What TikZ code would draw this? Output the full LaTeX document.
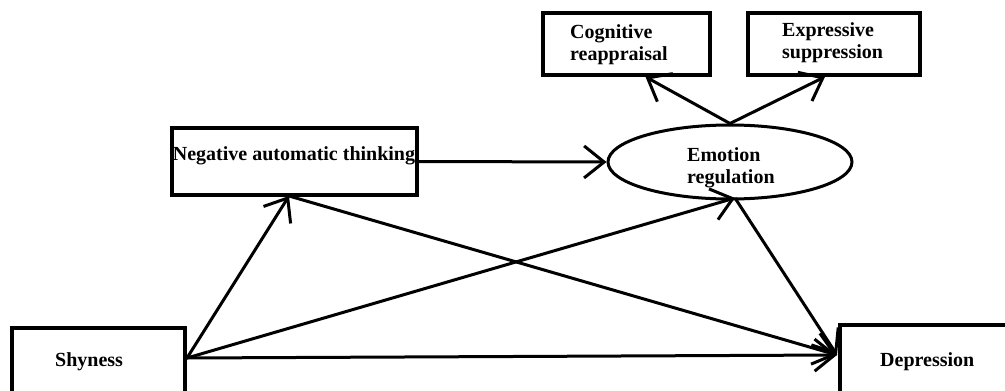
\documentclass[tikz,border=0pt]{standalone}
\usepackage{fontspec}
\setmainfont{Liberation Serif}
\usetikzlibrary{arrows.meta,shapes.geometric,calc}
\tikzset{
  box/.style={draw, line width=3.6pt, inner sep=0pt},
  txt/.style={font=\fontsize{20}{22}\selectfont\bfseries, inner sep=0pt, align=left},
  arr/.style={line width=3pt, -{Straight Barb[length=20pt,width=32pt,line width=3pt]}}
}
\begin{document}
\begin{tikzpicture}[x=1pt,y=-1pt]
\useasboundingbox (0,0) rectangle (1005,391);
\clip (0,0) rectangle (1005,391);
\fill[white] (0,0) rectangle (1005,391);
% boxes
\node[box, minimum width=167pt, minimum height=62pt] (cog) at (626.5,44) {};
\node[box, minimum width=172pt, minimum height=62pt] (exp) at (834,44) {};
\node[box, minimum width=245pt, minimum height=67pt] (nat) at (294.5,161.5) {};
\node[draw, ellipse, line width=3pt, minimum width=244pt, minimum height=74pt, inner sep=0pt] (er) at (730,162) {};
\node[box, minimum width=173pt, minimum height=80pt] (shy) at (98.5,368) {};
\node[box, minimum width=180pt, minimum height=80pt] (dep) at (930,365) {};
% texts
\node[txt, anchor=west] (tcog) at (570,45) {Cognitive\\reappraisal};
\node[txt, anchor=west] (texp) at (782,43) {Expressive\\suppression};
\node[txt] (tnat) at (294,156) {Negative automatic thinking};
\node[txt, anchor=west] (ter) at (687,168) {Emotion\\regulation};
\node[txt, anchor=west] (tshy) at (55,362) {Shyness};
\node[txt, anchor=west] (tdep) at (880,362) {Depression};
% anchor points
\coordinate (shyo) at (187,358);
\coordinate (depi) at (837,355);
\coordinate (natb) at (289,196);
\coordinate (erb) at (735,198);
% arrows
\draw[arr] (er.north) -- ([xshift=19pt]cog.south);
\draw[arr] (er.north) -- ([xshift=-9pt]exp.south);
\draw[arr] (nat.east) -- (er.west);
\draw[arr] (shyo) -- (natb);
\draw[arr] (shyo) -- (erb);
\draw[arr] (shyo) -- (depi);
\draw[arr] (natb) -- (depi);
\draw[arr] (erb) -- (depi);
\end{tikzpicture}
\end{document}
